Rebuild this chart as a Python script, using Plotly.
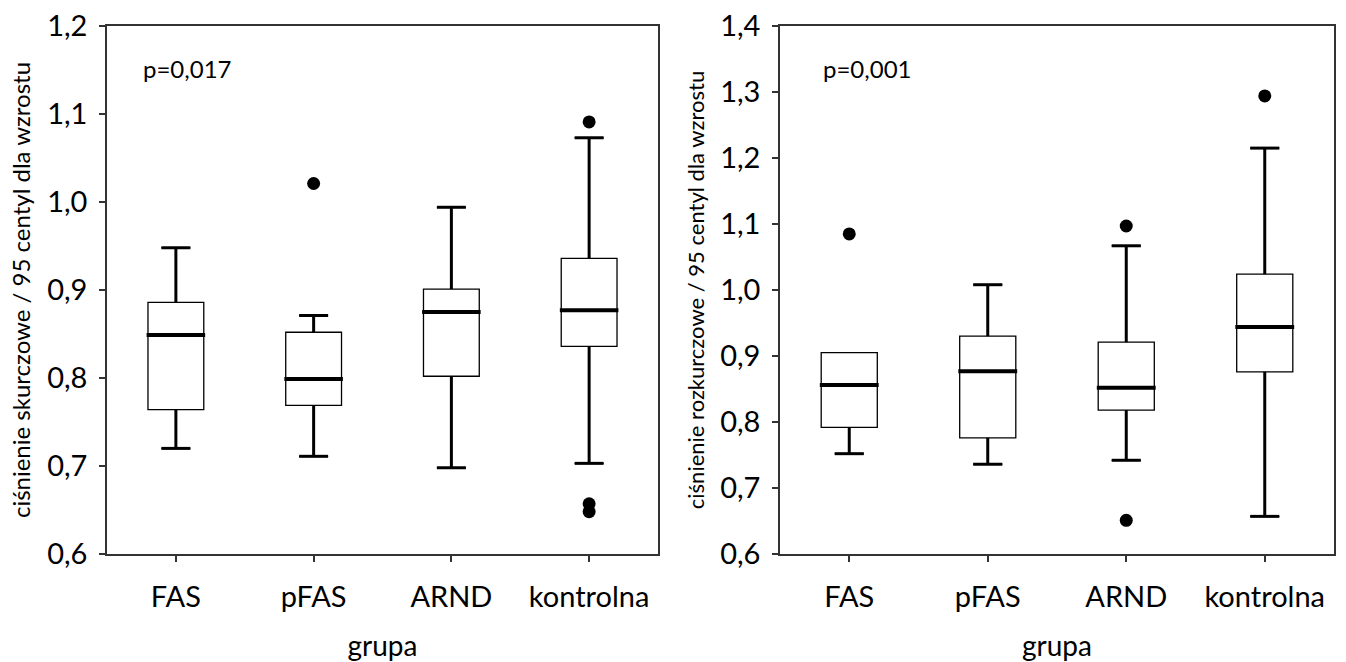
import plotly.graph_objects as go

categories = ["FAS", "pFAS", "ARND", "kontrolna"]

# Left panel: systolic pressure / 95th percentile for height
sys_lower = [0.720, 0.711, 0.698, 0.703]
sys_q1 = [0.764, 0.769, 0.802, 0.836]
sys_median = [0.849, 0.799, 0.875, 0.877]
sys_q3 = [0.886, 0.852, 0.901, 0.936]
sys_upper = [0.948, 0.871, 0.994, 1.073]
sys_out_cat = [1, 3, 3, 3]
sys_out_val = [1.021, 1.091, 0.657, 0.648]

# Right panel: diastolic pressure / 95th percentile for height
dia_lower = [0.752, 0.736, 0.742, 0.657]
dia_q1 = [0.792, 0.776, 0.818, 0.876]
dia_median = [0.856, 0.877, 0.852, 0.944]
dia_q3 = [0.905, 0.930, 0.921, 1.024]
dia_upper = [0.905, 1.008, 1.067, 1.215]   # FAS: no upper whisker (ends at Q3)
dia_out_cat = [0, 2, 2, 3]
dia_out_val = [1.085, 1.097, 0.651, 1.294]

p_texts = ["p=0,017", "p=0,001"]
y_titles = ["ciśnienie skurczowe / 95 centyl dla wzrostu",
            "ciśnienie rozkurczowe / 95 centyl dla wzrostu"]
x_title = "grupa"

BOX_W = 0.405
CAP_HALF = 0.105
FONT = "Lato"

fig = go.Figure()


def add_panel(lower, q1, med, q3, upper, out_cat, out_val, xa, ya):
    xs = list(range(len(categories)))
    fig.add_trace(go.Box(
        x=xs, q1=q1, median=med, q3=q3, lowerfence=lower, upperfence=upper,
        width=BOX_W, whiskerwidth=0.52, fillcolor="white",
        line=dict(color="black", width=1.3), boxpoints=False,
        xaxis=xa, yaxis=ya, showlegend=False, hoverinfo="skip"))
    # thick whiskers with caps
    wx, wy = [], []
    for i in xs:
        if upper[i] > q3[i]:
            wx += [i, i, None, i - CAP_HALF, i + CAP_HALF, None]
            wy += [q3[i], upper[i], None, upper[i], upper[i], None]
        if lower[i] < q1[i]:
            wx += [i, i, None, i - CAP_HALF, i + CAP_HALF, None]
            wy += [q1[i], lower[i], None, lower[i], lower[i], None]
    fig.add_trace(go.Scatter(x=wx, y=wy, mode="lines",
                             line=dict(color="black", width=3),
                             xaxis=xa, yaxis=ya, showlegend=False, hoverinfo="skip"))
    # thick medians
    mx, my = [], []
    for i in xs:
        mx += [i - BOX_W / 2 - 0.01, i + BOX_W / 2 + 0.01, None]
        my += [med[i], med[i], None]
    fig.add_trace(go.Scatter(x=mx, y=my, mode="lines",
                             line=dict(color="black", width=4),
                             xaxis=xa, yaxis=ya, showlegend=False, hoverinfo="skip"))
    fig.add_trace(go.Scatter(x=out_cat, y=out_val, mode="markers",
                             marker=dict(color="black", size=13),
                             xaxis=xa, yaxis=ya, showlegend=False, hoverinfo="skip"))


add_panel(sys_lower, sys_q1, sys_median, sys_q3, sys_upper, sys_out_cat, sys_out_val, "x", "y")
add_panel(dia_lower, dia_q1, dia_median, dia_q3, dia_upper, dia_out_cat, dia_out_val, "x2", "y2")

W, H = 1346, 662
left_dom = [107 / W, 658 / W]
right_dom = [780 / W, 1334 / W]
y_dom = [1 - 554 / H, 1 - 26 / H]

axis_common = dict(showline=True, linecolor="#333333", linewidth=1.5, mirror=True,
                   ticks="outside", ticklen=6, tickwidth=1.5, tickcolor="#333333",
                   showgrid=False, zeroline=False, automargin=False)

xfont = dict(family=FONT, size=29, color="black")
yfont = dict(family=FONT, size=29, color="black")
xtitle_font = dict(family=FONT, size=28, color="black")

fig.update_layout(
    width=W, height=H, template="none", separators=", ",
    paper_bgcolor="white", plot_bgcolor="white",
    margin=dict(l=0, r=0, t=0, b=0),
    showlegend=False,
    xaxis=dict(domain=left_dom, range=[-0.5, 3.5], tickvals=[0, 1, 2, 3], ticktext=categories,
               anchor="y", tickfont=xfont, ticklabelstandoff=10,
               title=dict(text=x_title, font=xtitle_font, standoff=34),
               **axis_common),
    yaxis=dict(domain=y_dom, range=[0.6, 1.2], dtick=0.1, tick0=0.6, tickformat=".1f",
               anchor="x", tickfont=yfont, ticklabelstandoff=6,
               title=dict(text=y_titles[0], font=dict(family=FONT, size=24, color="black"), standoff=10),
               **axis_common),
    xaxis2=dict(domain=right_dom, range=[-0.5, 3.5], tickvals=[0, 1, 2, 3], ticktext=categories,
                anchor="y2", tickfont=xfont, ticklabelstandoff=10,
                title=dict(text=x_title, font=xtitle_font, standoff=34),
                **axis_common),
    yaxis2=dict(domain=y_dom, range=[0.6, 1.4], dtick=0.1, tick0=0.6, tickformat=".1f",
                anchor="x2", tickfont=yfont, ticklabelstandoff=6,
                title=dict(text=y_titles[1], font=dict(family=FONT, size=22, color="black"), standoff=10),
                **axis_common),
)

fig.add_annotation(text=p_texts[0], xref="x domain", yref="y domain", x=0.062, y=0.92,
                   xanchor="left", yanchor="middle", showarrow=False,
                   font=dict(family=FONT, size=24, color="black"))
fig.add_annotation(text=p_texts[1], xref="x2 domain", yref="y2 domain", x=0.074, y=0.92,
                   xanchor="left", yanchor="middle", showarrow=False,
                   font=dict(family=FONT, size=24, color="black"))

fig.write_html("out.html")
